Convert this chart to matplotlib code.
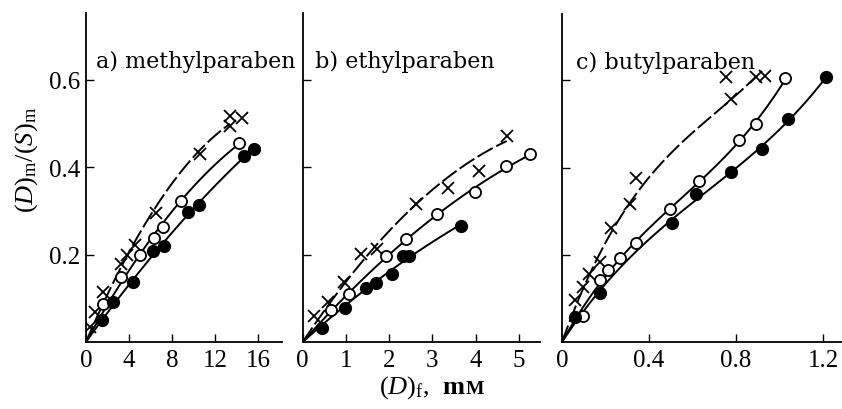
import numpy as np
import matplotlib
matplotlib.use("Agg")
import matplotlib.pyplot as plt

plt.rcParams['font.family'] = ['Liberation Serif', 'DejaVu Serif']
plt.rcParams['mathtext.fontset'] = 'custom'
plt.rcParams['mathtext.rm'] = 'Liberation Serif'
plt.rcParams['mathtext.it'] = 'Liberation Serif:italic'
plt.rcParams['mathtext.bf'] = 'Liberation Serif:bold'

# a) methylparaben
a_cross_x = [0.37, 0.84, 1.6, 3.3, 3.8, 4.56, 6.5, 10.6, 13.4, 13.4, 14.5]
a_cross_y = [0.034, 0.068, 0.114, 0.178, 0.200, 0.222, 0.296, 0.430, 0.494, 0.517, 0.511]
a_open_x = [1.6, 3.3, 5.0, 6.3, 7.2, 8.84, 14.2]
a_open_y = [0.087, 0.149, 0.200, 0.238, 0.264, 0.323, 0.455]
a_fill_x = [1.52, 2.54, 4.4, 6.26, 7.26, 9.5, 10.5, 14.7, 15.6]
a_fill_y = [0.051, 0.091, 0.138, 0.207, 0.219, 0.298, 0.314, 0.426, 0.441]

# b) ethylparaben
b_cross_x = [0.25, 0.59, 0.96, 1.35, 1.71, 2.62, 3.37, 4.09, 4.72]
b_cross_y = [0.059, 0.091, 0.137, 0.202, 0.213, 0.316, 0.352, 0.392, 0.471]
b_open_x = [0.66, 1.06, 1.93, 2.38, 3.10, 3.99, 4.71, 5.25]
b_open_y = [0.074, 0.109, 0.196, 0.235, 0.292, 0.343, 0.402, 0.429]
b_fill_x = [0.455, 0.98, 1.46, 1.70, 2.06, 2.31, 2.47, 3.66]
b_fill_y = [0.033, 0.078, 0.123, 0.136, 0.156, 0.197, 0.197, 0.265]

# c) butylparaben
c_cross_x = [0.061, 0.097, 0.126, 0.173, 0.227, 0.311, 0.342, 0.777, 0.756, 0.893, 0.935]
c_cross_y = [0.096, 0.126, 0.155, 0.184, 0.261, 0.316, 0.377, 0.558, 0.608, 0.608, 0.611]
c_open_x = [0.097, 0.173, 0.211, 0.265, 0.340, 0.498, 0.628, 0.815, 0.893, 1.027]
c_open_y = [0.060, 0.143, 0.165, 0.192, 0.226, 0.305, 0.369, 0.464, 0.500, 0.605]
c_fill_x = [0.061, 0.173, 0.506, 0.618, 0.777, 0.920, 1.038, 1.215]
c_fill_y = [0.057, 0.113, 0.272, 0.339, 0.389, 0.442, 0.512, 0.607]

titles = ['a) methylparaben', 'b) ethylparaben', 'c) butylparaben']
xticks = [[0, 4, 8, 12, 16], [0, 1, 2, 3, 4, 5], [0, 0.4, 0.8, 1.2]]
xticklabels = [['0', '4', '8', '12', '16'], ['0', '1', '2', '3', '4', '5'],
               ['0', '0.4', '0.8', '1.2']]
yticks = [0.2, 0.4, 0.6]


def fit_curve(x, y, x_end, deg, skip=()):
    # least squares polynomial through the origin; stray points left out
    keep = [k for k in range(len(x)) if k not in skip]
    x = np.asarray(x)[keep]
    y = np.asarray(y)[keep]
    A = np.column_stack([x ** k for k in range(1, deg + 1)])
    coef = np.linalg.lstsq(A, y, rcond=None)[0]
    xs = np.linspace(0, x_end, 120)
    ys = sum(c * xs ** (k + 1) for k, c in enumerate(coef))
    return xs, ys


fig = plt.figure(figsize=(8.42, 4.10), dpi=100)
positions = [[0.1021, 0.1634, 0.2328, 0.8024],
             [0.3595, 0.1634, 0.2818, 0.8024],
             [0.6675, 0.1634, 0.3325, 0.7999]]
xlims = [18.23, 5.49, 1.287]

# (x, y, curve end, degree, points left out of the fit) for x / open / filled
panels = [
    [(a_cross_x, a_cross_y, 13.4, 2, ()),
     (a_open_x, a_open_y, 14.2, 2, ()),
     (a_fill_x, a_fill_y, 15.3, 2, ())],
    [(b_cross_x, b_cross_y, 4.72, 2, (7,)),
     (b_open_x, b_open_y, 5.25, 2, ()),
     (b_fill_x, b_fill_y, 3.66, 2, ())],
    [(c_cross_x, c_cross_y, 0.895, 3, (6, 8, 10)),
     (c_open_x, c_open_y, 1.03, 3, ()),
     (c_fill_x, c_fill_y, 1.215, 3, ())],
]

for i, series in enumerate(panels):
    ax = fig.add_axes(positions[i])
    ax.set_xlim(0, xlims[i])
    ax.set_ylim(0, 0.752)
    for s in ['top', 'right']:
        ax.spines[s].set_visible(False)
    for s in ['left', 'bottom']:
        ax.spines[s].set_linewidth(1.3)

    (cx, cy, ce, cd, cs), (ox, oy, oe, od, os_), (fx, fy, fe, fd, fs) = series
    xs, ys = fit_curve(cx, cy, ce, cd, cs)
    ax.plot(xs, ys, color='black', lw=1.4, dashes=(9, 2))
    xs, ys = fit_curve(ox, oy, oe, od, os_)
    ax.plot(xs, ys, color='black', lw=1.4)
    xs, ys = fit_curve(fx, fy, fe, fd, fs)
    ax.plot(xs, ys, color='black', lw=1.4)

    ax.plot(cx, cy, ls='none', marker='x', ms=8, mew=1.3, color='black')
    ax.plot(ox, oy, ls='none', marker='o', ms=8, mew=1.3, mfc='white', mec='black')
    ax.plot(fx, fy, ls='none', marker='o', ms=8.5, mew=1.0, mfc='black', mec='black')

    ax.set_xticks(xticks[i])
    ax.set_xticklabels(xticklabels[i])
    ax.set_yticks(yticks)
    if i == 0:
        ax.set_yticklabels(['0.2', '0.4', '0.6'])
    else:
        ax.set_yticklabels([])
    ax.tick_params(direction='in', length=6, width=1.0, labelsize=18, pad=5)
    ax.tick_params(axis='y', pad=4)
    ax.text(0.05, 0.855, titles[i], transform=ax.transAxes, fontsize=16,
            family='DejaVu Serif', ha='left', va='center')
    ax.patch.set_visible(False)

fig.text(0.032, 0.61, r'$(D)_{\rm m}/(S)_{\rm m}$', rotation=90, fontsize=19,
         ha='center', va='center')
fig.text(0.553, 0.055, r'$(D)_{\rm f}$,  $\mathbf{m}$', fontsize=19,
         ha='right', va='center')
fig.text(0.553, 0.050, 'M', fontsize=14, fontweight='bold', ha='left', va='center')

fig.savefig('out.png', dpi=100)
